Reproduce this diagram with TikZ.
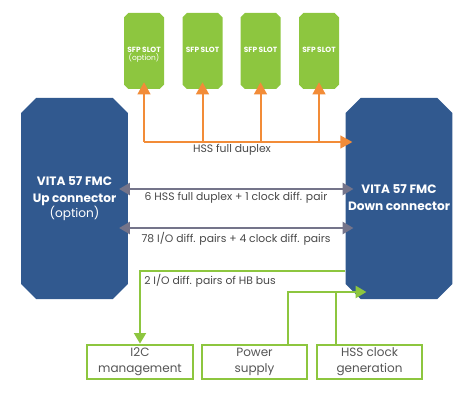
\documentclass[tikz,border=0pt]{standalone}
\usepackage{fontspec}
\setmainfont{Poppins}
\usetikzlibrary{shapes.misc,arrows.meta,calc}
\definecolor{fmcblue}{HTML}{31598F}
\definecolor{sfpgreen}{HTML}{8DC63F}
\definecolor{hssorange}{HTML}{F28C38}
\definecolor{busgray}{HTML}{74748A}
\definecolor{txtgray}{HTML}{484848}
\definecolor{boxtxt}{HTML}{555555}
\newcommand{\zwtext}[1]{\makebox[0pt]{\begin{tabular}{@{}c@{}}#1\end{tabular}}}
\tikzset{
  fmcbox/.style={chamfered rectangle, chamfered rectangle xsep=11.25pt, chamfered rectangle ysep=11.25pt,
    fill=fmcblue, draw=none, inner sep=0pt, minimum width=80pt, minimum height=150.75pt,
    text=white, font=\fontsize{9.1}{12.5}\selectfont\bfseries},
  sfpbox/.style={chamfered rectangle, chamfered rectangle xsep=6pt, chamfered rectangle ysep=6pt,
    fill=sfpgreen, draw=none, inner sep=0pt, minimum width=30pt, minimum height=57pt,
    text=white, font=\fontsize{5.6}{6.5}\selectfont},
  funcbox/.style={rectangle, draw=sfpgreen, line width=1.5pt, inner sep=0pt,
    minimum width=79pt, minimum height=26pt, align=center, text=boxtxt,
    font=\fontsize{9}{12}\selectfont},
  lbl/.style={text=txtgray, font=\fontsize{8.1}{9}\selectfont, inner sep=0pt},
  oline/.style={draw=hssorange, line width=1.5pt},
  otip/.style={-{Triangle[length=9pt,width=9.5pt]}},
  gline/.style={draw=busgray, line width=1.5pt, {Triangle[length=8pt,width=9pt]}-{Triangle[length=8pt,width=9pt]}},
  grline/.style={draw=sfpgreen, line width=1.5pt},
  grtip/.style={-{Triangle[length=8pt,width=9pt]}}
}
\begin{document}
\begin{tikzpicture}[x=0.75pt,y=-0.75pt]
\useasboundingbox (0,0) rectangle (474,402);
% connectors' reference heights
\coordinate (yhss) at (0,142);
\coordinate (ysix) at (0,189);
\coordinate (yseven) at (0,228);
\coordinate (ybus) at (0,271);
\coordinate (ysup) at (0,292);

\node[fmcbox] (lbox) at (74.5,198.5) {\zwtext{VITA 57 FMC\\Up connector\\[-1pt]{\mdseries(option)}}};
\node[fmcbox] (rbox) at (399,198.5) {\zwtext{VITA 57 FMC\\Down connector}};

\node[sfpbox] (sfp1) at (144,51) {\zwtext{\textbf{SFP SLOT}}\makebox[0pt]{\raisebox{-6pt}[0pt][0pt]{(option)}}};
\node[sfpbox] (sfp2) at (202.5,51) {\zwtext{\textbf{SFP SLOT}}};
\node[sfpbox] (sfp3) at (260.5,51) {\zwtext{\textbf{SFP SLOT}}};
\node[sfpbox] (sfp4) at (319,51) {\zwtext{\textbf{SFP SLOT}}};

\node[funcbox] (i2c) at (140,362) {I2C\\management};
\node[funcbox] (power) at (254.5,362) {Power\\supply};
\node[funcbox] (hssclk) at (369.5,362) {HSS clock\\generation};

% HSS full duplex bus
\draw[oline,otip] (sfp1.south |- yhss) -- ($(rbox.west |- yhss)+(7,0)$);
\foreach \s in {sfp1,sfp2,sfp3,sfp4}
  \draw[oline,otip] (\s.south |- yhss) -- ($(\s.south)+(0,-7)$);
\node[lbl] (lhss) at (232,150) {HSS full duplex};

% gray buses
\draw[gline] ($(lbox.east |- ysix)+(-9,0)$) -- ($(rbox.west |- ysix)+(8,0)$);
\node[lbl] (lsix) at (236,198) {6 HSS full duplex + 1 clock diff. pair};
\draw[gline] ($(lbox.east |- yseven)+(-9,0)$) -- ($(rbox.west |- yseven)+(8,0)$);
\node[lbl] (lseven) at (236,239) {78 I/O diff. pairs + 4 clock diff. pairs};

% HB bus to I2C
\draw[grline,grtip] (rbox.west |- ybus) -| (i2c.north);
\node[lbl, anchor=west] (lhb) at (144,281) {2 I/O diff. pairs of HB bus};

% power & clock to down connector
\coordinate (pwrtap) at ($(power.north)+(33.5,0)$);
\coordinate (clktap) at ($(hssclk.north)+(-33.5,0)$);
\draw[grline,grtip] (pwrtap) |- ($(rbox.west |- ysup)+(21,0)$);
\draw[grline] (clktap) -- (clktap |- ysup);
\end{tikzpicture}
\end{document}
